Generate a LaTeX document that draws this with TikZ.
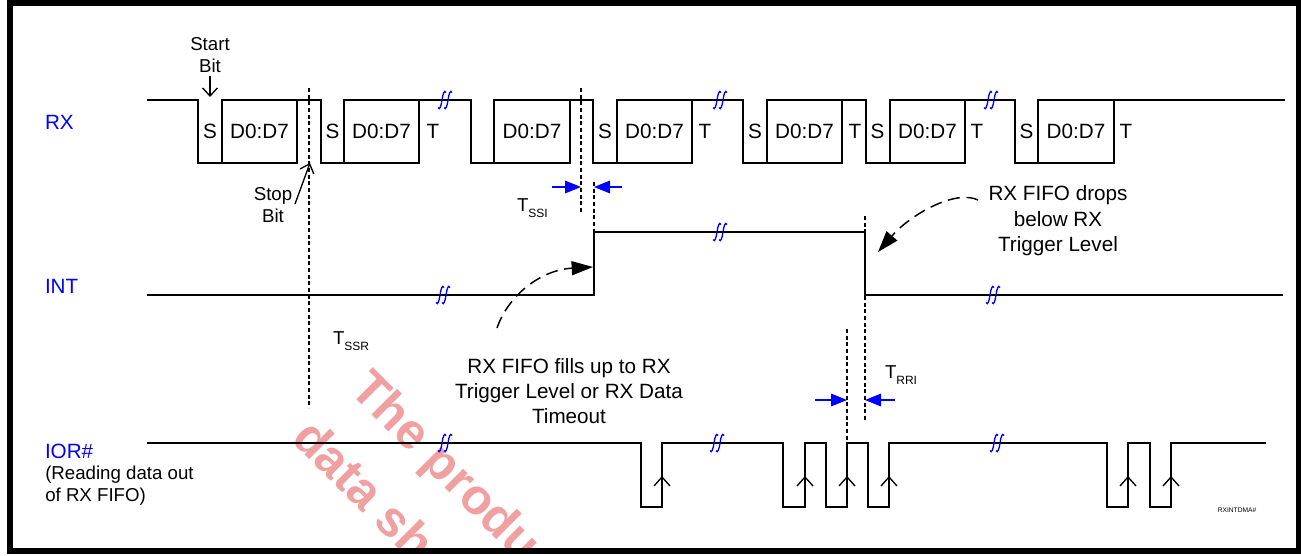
\documentclass[tikz,border=0pt]{standalone}
\usepackage{fontspec}
\setmainfont{Liberation Sans}
\usetikzlibrary{arrows.meta}
\newcommand\fmain{\fontsize{15.5}{18.8}\selectfont}
\newcommand\fsmall{\fontsize{14}{16.5}\selectfont}
\newcommand\fsubs{\fontsize{9}{10}\selectfont}
\newcommand\ftiny{\fontsize{5}{6}\selectfont}
\newcommand\fwmark{\fontsize{37.5}{40}\selectfont\bfseries}
\definecolor{wmred}{RGB}{240,160,160}
\definecolor{sigblue}{RGB}{0,0,255}
\begin{document}
\begin{tikzpicture}[x=0.75pt,y=-0.75pt,
  sig/.style={line width=1.3pt,line join=miter},
  databox/.style={draw,line width=1.3pt,minimum width=56.6pt,minimum height=47.25pt,inner sep=0pt,outer sep=0pt,font=\fmain},
  lbl/.style={inner sep=0pt,outer sep=0pt,font=\fmain},
  slbl/.style={inner sep=0pt,outer sep=0pt,font=\fsmall,align=center},
  signame/.style={inner sep=0pt,outer sep=0pt,font=\fmain,text=sigblue},
  wmtext/.style={inner sep=0pt,anchor=base west,rotate=-45,text=wmred,font=\fwmark},
  vdash/.style={line width=0.9pt,dash pattern=on 3pt off 2pt},
  brkline/.style={draw=sigblue,line width=1pt},
  barr/.style={draw=sigblue,line width=0.8pt,-{Triangle[length=12pt,width=9.5pt]}},
  carr/.style={line width=1.1pt,dash pattern=on 9pt off 5pt,-{Triangle[length=16pt,width=10.5pt]}},
  oarr/.style={line width=1pt,-{Straight Barb[length=6pt,width=11pt]}}
]
\useasboundingbox (0,0) rectangle (1301,556);
\newcommand\brkstroke[2]{%
  \draw[brkline] (#1-4,#2+7.5) .. controls (#1-2.5,#2+11) and (#1-0.8,#2+6) .. (#1,#2)
     .. controls (#1+0.8,#2-6) and (#1+2.5,#2-11) .. (#1+4,#2-7.5);}
\newcommand\brk[2]{\brkstroke{#1-3}{#2}\brkstroke{#1+3}{#2}}
\newcommand\uparr[1]{\draw[line width=1pt] (#1-8,486) -- (#1,477) -- (#1+8,486);}

% watermark
\begin{scope}
  \clip (13,6) rectangle (1296,548);
  \node[wmtext] (wm1) at (348,391) {The product};
  \node[wmtext] (wm2) at (290,440) {data sheet};
\end{scope}

% frame
\draw[line width=4.5pt] (10,3) rectangle (1299,551);

% signal names
\node[signame,anchor=west] (rxl) at (45,122) {RX};
\node[signame,anchor=west] (intl) at (45,286) {INT};
\node[signame,anchor=west] (iorl) at (45,451) {IOR\#};
\node[inner sep=0pt,font=\fsmall,align=left,anchor=west] (iord) at (45,486) {(Reading data out\\of RX FIFO)};

% RX data boxes
\node[databox] (d1) at (259.5,131.5) {D0:D7};
\node[databox] (d2) at (381.5,131.5) {D0:D7};
\node[databox] (d3) at (532,131.5) {D0:D7};
\node[databox] (d4) at (654.5,131.5) {D0:D7};
\node[databox] (d5) at (804.5,131.5) {D0:D7};
\node[databox] (d6) at (927.5,131.5) {D0:D7};
\node[databox] (d7) at (1076,131.5) {D0:D7};

% RX signal
\coordinate (rx0) at (147,100);
\draw[sig] (rx0) -- (198,100) -- (198,163) -- (d1.south west);
\draw[sig] (d1.north east) -- (321,100) -- (321,163) -- (d2.south west);
\draw[sig] (d2.north east) -- (471,100) -- (471,163) -- (d3.south west);
\draw[sig] (d3.north east) -- (593,100) -- (593,163) -- (d4.south west);
\draw[sig] (d4.north east) -- (743,100) -- (743,163) -- (d5.south west);
\draw[sig] (d5.north east) -- (866,100) -- (866,163) -- (d6.south west);
\draw[sig] (d6.north east) -- (1015,100) -- (1015,163) -- (d7.south west);
\draw[sig] (d7.north east) -- (1285,100);

% S and T labels
\foreach \x/\n in {210/s1,332.5/s2,605/s4,755/s5,877.5/s6,1026.5/s7}
  {\node[lbl] (\n) at (\x,131.5) {S};}
\foreach \x/\n in {433/t2,705/t4,855/t5,977/t6,1126/t7}
  {\node[lbl] (\n) at (\x,131.5) {T};}

% INT signal
\coordinate (int0) at (147,295);
\draw[sig] (int0) -- (594,295) -- (594,232) -- (865,232) -- (865,295) -- (1283,295);

% IOR signal
\coordinate (ior0) at (147,443);
\draw[sig] (ior0) -- (641,443) -- (641,507) -- (662,507) -- (662,443)
  -- (783,443) -- (783,507) -- (805,507) -- (805,443)
  -- (826,443) -- (826,507) -- (847,507) -- (847,443)
  -- (868,443) -- (868,507) -- (889,507) -- (889,443)
  -- (1107,443) -- (1107,507) -- (1128,507) -- (1128,443)
  -- (1150,443) -- (1150,507) -- (1171,507) -- (1171,443) -- (1266,443);
\foreach \x in {662,805,847,889,1128,1171} {\uparr{\x}}

% break marks
\brk{445}{100} \brk{720}{100} \brk{991}{100}
\brk{443}{295} \brk{720}{232} \brk{993}{295}
\brk{445}{443} \brk{717}{443} \brk{997}{443}

% dashed reference lines
\coordinate (v1t) at (309,88);  \coordinate (v1b) at (309,408);
\coordinate (v2t) at (581,88);  \coordinate (v2b) at (581,213);
\coordinate (v3t) at (594,182); \coordinate (v3b) at (594,232);
\coordinate (v4t) at (865,216); \coordinate (v4b) at (865,422);
\coordinate (v5t) at (847,329); \coordinate (v5b) at (847,443);
\draw[vdash] (v1t) -- (v1b);
\draw[vdash] (v2t) -- (v2b);
\draw[vdash] (v3t) -- (v3b);
\draw[vdash] (v4t) -- (v4b);
\draw[vdash] (v5t) -- (v5b);

% Start / Stop bit
\node[slbl] (start) at (210,55) {Start\\Bit};
\coordinate (startTip) at (210,97);
\draw[oarr] (start.south) ++(0,3) -- (startTip);
\node[slbl] (stop) at (273,205) {Stop\\Bit};
\coordinate (stopTip) at (310,163);
\draw[oarr] (295,204) -- (stopTip);

% timing labels
\node[lbl,anchor=base west,font=\fsmall] (tssi) at (517,211) {T\raisebox{-5pt}{\fsubs SSI}};
\node[lbl,anchor=base west,font=\fsmall] (tssr) at (333,344) {T\raisebox{-5pt}{\fsubs SSR}};
\node[lbl,anchor=base west,font=\fsmall] (trri) at (885,378) {T\raisebox{-5pt}{\fsubs RRI}};

% dimension arrows
\coordinate (a1) at (581,187); \coordinate (a2) at (594,187);
\draw[barr] (552,187) -- (a1);
\draw[barr] (622,187) -- (a2);
\coordinate (b1) at (847,400); \coordinate (b2) at (865,400);
\draw[barr] (815,400) -- (b1);
\draw[barr] (895,400) -- (b2);

% annotations
\node[lbl,align=center] (fills) at (569,391) {RX FIFO fills up to RX\\Trigger Level or RX Data\\Timeout};
\node[lbl,align=center,font=\fontsize{15.5}{19.2}\selectfont] (drops) at (1058,221) {RX FIFO drops\\below RX\\Trigger Level};
\coordinate (riseTip) at (593,267);
\coordinate (fallTip) at (878,252);
\draw[carr] (497,328) .. controls (508,296) and (540,270) .. (riseTip);
\draw[carr] (978,200) .. controls (955,189) and (910,215) .. (fallTip);

\node[inner sep=0pt,font=\ftiny] (tag) at (1237,510) {RXINTDMA\#};
\end{tikzpicture}
\end{document}
